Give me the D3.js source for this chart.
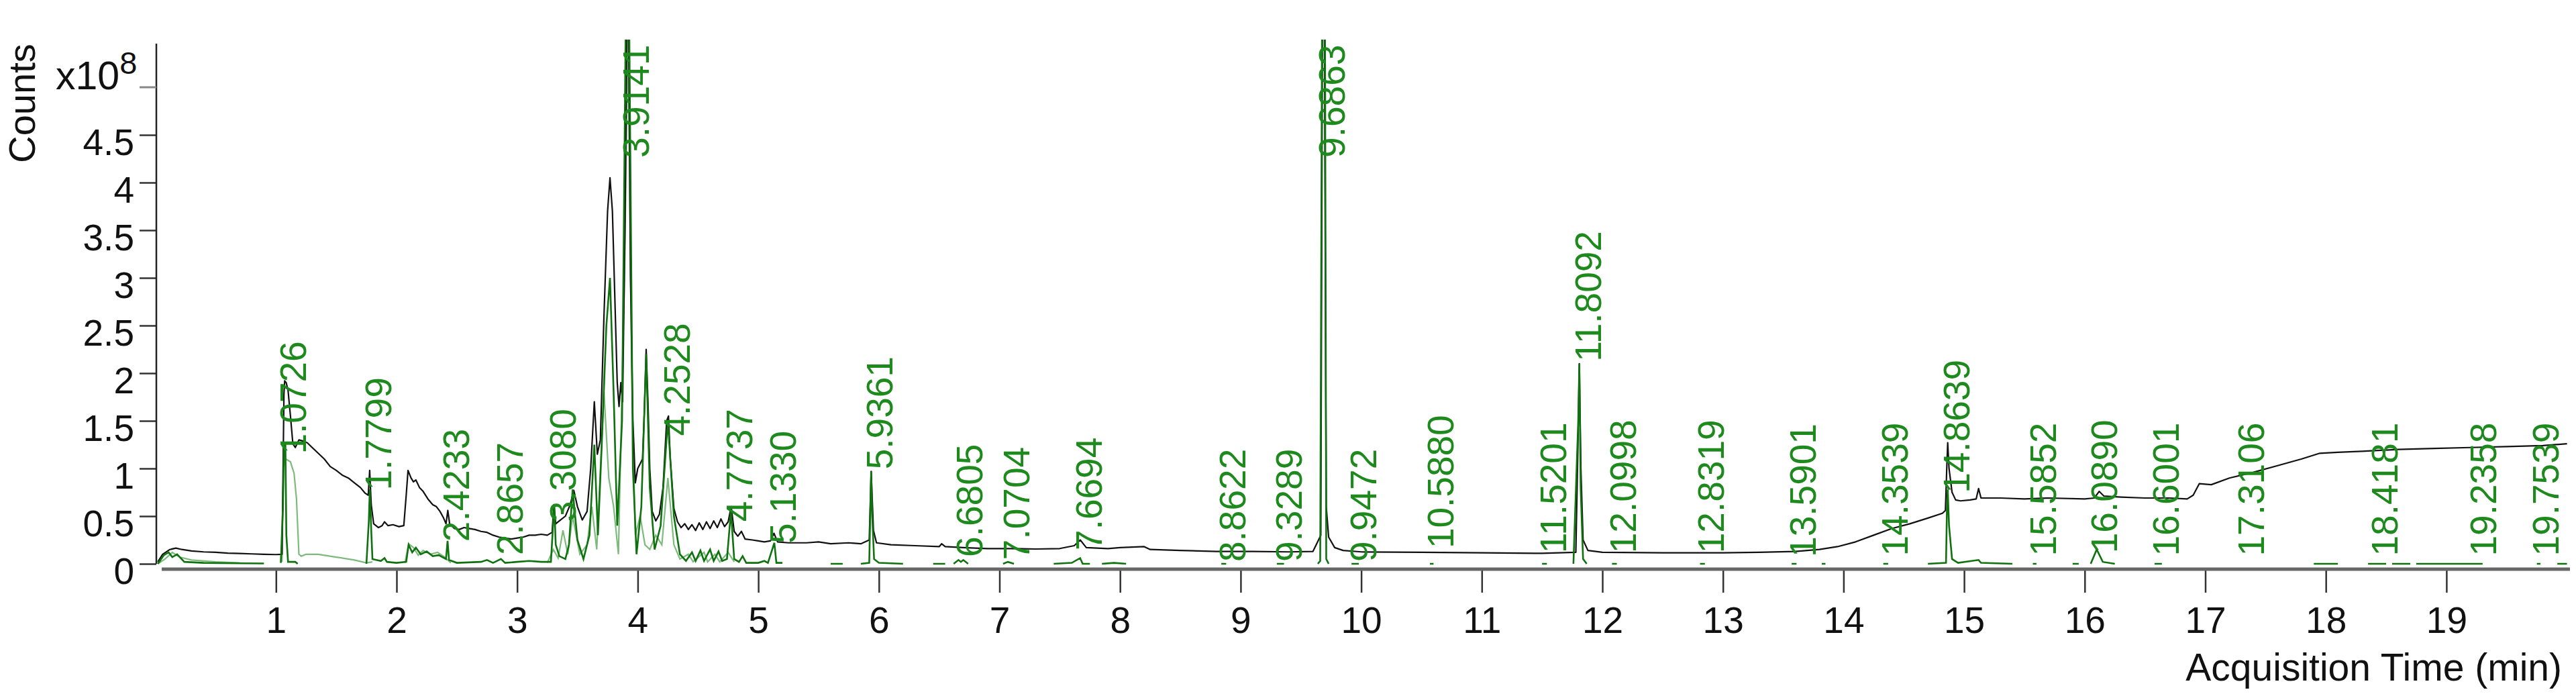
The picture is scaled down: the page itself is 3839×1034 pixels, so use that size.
<!DOCTYPE html>
<html>
<head>
<meta charset="utf-8">
<script src="https://cdn.jsdelivr.net/npm/d3@7"></script>
<style>
  html, body { margin: 0; padding: 0; background: #fff; }
  svg { display: block; font-family: "Liberation Sans", Arial, sans-serif; }
</style>
</head>
<body>
<div id="chart"></div>
<script>
// tick labels
const xTicks = [1, 2, 3, 4, 5, 6, 7, 8, 9, 10, 11, 12, 13, 14, 15, 16, 17, 18, 19];
const yTicks = [0, 0.5, 1, 1.5, 2, 2.5, 3, 3.5, 4, 4.5];

// TIC trace (black), [time min, counts x10^8]
const ticTrace = [
  [0.02,0.02],[0.06,0.1],[0.12,0.15],[0.17,0.165],[0.22,0.15],[0.3,0.135],[0.4,0.125],[0.5,0.12],[0.6,0.112],[0.7,0.108],[0.8,0.104],[0.9,0.1],[1.0,0.097],[1.05,0.1],
  [1.058,0.9],[1.066,1.78],[1.072,1.92],[1.085,1.9],[1.1,1.82],[1.12,1.55],[1.14,1.26],[1.16,1.22],[1.19,1.3],[1.22,1.29],[1.26,1.27],[1.3,1.22],[1.35,1.16],[1.4,1.1],[1.45,1.02],[1.5,0.98],[1.55,0.93],[1.6,0.9],[1.65,0.85],[1.7,0.8],[1.74,0.74],[1.765,0.72],[1.777,0.98],[1.79,0.62],[1.81,0.42],
  [1.85,0.38],[1.88,0.4],[1.9,0.44],[1.93,0.4],[1.97,0.41],[2.02,0.39],[2.06,0.4],[2.08,0.72],[2.095,0.98],[2.12,0.9],[2.14,0.86],[2.16,0.88],[2.19,0.8],[2.22,0.76],[2.26,0.68],[2.3,0.62],[2.33,0.6],[2.36,0.55],[2.39,0.48],[2.41,0.42],[2.425,0.56],[2.44,0.42],
  [2.48,0.37],[2.52,0.36],[2.56,0.38],[2.6,0.37],[2.65,0.36],[2.7,0.34],[2.75,0.33],[2.8,0.3],[2.85,0.28],[2.9,0.27],[2.95,0.26],[3.0,0.27],[3.05,0.28],[3.1,0.3],[3.15,0.3],[3.2,0.31],[3.25,0.3],[3.29,0.33],[3.305,0.62],[3.32,0.42],[3.36,0.46],[3.4,0.5],[3.44,0.62],[3.47,0.77],[3.5,0.6],[3.54,0.46],[3.58,0.55],
  [3.61,1.0],[3.64,1.7],[3.665,1.15],[3.69,1.3],[3.72,2.6],[3.75,3.7],[3.77,4.05],[3.79,3.7],[3.81,2.8],[3.83,1.9],[3.845,1.65],[3.86,1.9],[3.875,1.7],[3.895,3.6],[3.91,5.6],[3.925,5.6],[3.94,3.0],[3.96,1.5],[3.98,0.85],[4.0,1.0],[4.02,1.05],[4.04,1.1],[4.055,1.6],[4.07,2.25],[4.085,1.7],[4.1,1.0],[4.12,0.55],[4.15,0.45],[4.18,0.52],[4.21,0.8],[4.24,1.5],[4.255,1.55],[4.27,1.1],[4.3,0.58],[4.33,0.44],
  [4.36,0.38],[4.39,0.42],[4.42,0.36],[4.45,0.41],[4.48,0.35],[4.51,0.43],[4.54,0.36],[4.57,0.44],[4.6,0.37],[4.63,0.45],[4.66,0.38],[4.69,0.47],[4.72,0.39],[4.75,0.44],[4.775,0.6],[4.8,0.34],[4.83,0.29],[4.86,0.34],[4.89,0.26],[4.95,0.25],[5.0,0.24],[5.05,0.23],[5.1,0.24],[5.13,0.32],[5.16,0.23],[5.25,0.22],[5.4,0.22],[5.5,0.23],[5.6,0.21],[5.75,0.22],[5.85,0.21],[5.92,0.25],[5.936,0.97],[5.955,0.35],[5.98,0.22],
  [6.1,0.2],[6.3,0.19],[6.5,0.18],[6.52,0.21],[6.55,0.18],[6.7,0.17],[6.9,0.16],[7.1,0.16],[7.3,0.155],[7.5,0.16],[7.62,0.19],[7.67,0.25],[7.72,0.17],[7.9,0.16],[8.0,0.17],[8.2,0.18],[8.25,0.15],[8.5,0.14],[8.8,0.13],[9.1,0.13],[9.4,0.125],[9.6,0.13],[9.665,0.3],[9.678,5.6],[9.695,5.6],[9.71,0.6],[9.73,0.28],[9.78,0.17],[9.85,0.14],
  [10.0,0.125],[10.5,0.12],[11.0,0.115],[11.5,0.11],[11.78,0.12],[11.797,1.2],[11.809,2.1],[11.822,1.0],[11.84,0.25],[11.88,0.14],[12.0,0.12],[12.5,0.115],[13.0,0.115],[13.3,0.12],[13.6,0.13],[13.8,0.15],[13.95,0.18],[14.1,0.23],[14.25,0.3],[14.4,0.37],[14.55,0.42],[14.7,0.48],[14.82,0.53],[14.845,0.56],[14.856,1.0],[14.864,1.27],[14.875,1.0],[14.9,0.75],[14.93,0.67],
  [14.97,0.66],[15.05,0.67],[15.1,0.68],[15.12,0.79],[15.14,0.69],[15.3,0.69],[15.5,0.68],[15.7,0.69],[16.0,0.68],[16.08,0.69],[16.12,0.76],[16.16,0.71],[16.3,0.7],[16.5,0.69],[16.7,0.69],[16.85,0.68],[16.9,0.72],[16.95,0.84],[17.05,0.83],[17.2,0.9],[17.4,0.96],[17.6,1.03],[17.8,1.1],[17.95,1.16],[18.1,1.17],[18.3,1.18],[18.6,1.2],[18.9,1.21],[19.2,1.22],[19.5,1.23],[19.8,1.24],[20.0,1.26]
];

// labelled extracted trace (dark green), null = no data
const eicMain = [
  [0.02,0],[0.07,0.09],[0.11,0.12],[0.14,0.07],[0.18,0.1],[0.24,0.02],[0.4,0.01],[0.7,0.005],[0.9,0.003],[0.95,null],
  [1.04,0.01],[1.058,0.6],[1.066,1.25],[1.078,1.25],[1.086,0.3],[1.1,0.02],[1.16,0.02],[1.18,0],[1.2,null],
  [1.75,0],[1.77,0.45],[1.778,0.78],[1.79,0.35],[1.8,0.05],[1.87,0.03],[1.9,0.06],[1.92,0.02],[2.0,0.01],[2.08,0.02],[2.1,0.2],[2.13,0.12],[2.16,0.17],[2.2,0.1],[2.25,0.13],[2.3,0.08],[2.35,0.09],[2.41,0.05],[2.423,0.24],[2.435,0.04],[2.5,0.01],[2.7,0.02],[2.75,0.04],[2.8,0.01],[2.866,0.05],[2.9,0.01],[3.0,0.02],[3.1,0.03],[3.2,0.02],[3.28,0.02],
  [3.3,0.45],[3.308,0.62],[3.32,0.2],[3.35,0.08],[3.4,0.05],[3.43,0.2],[3.46,0.78],[3.5,0.25],[3.55,0.05],[3.6,0.3],[3.64,1.25],[3.67,0.3],[3.7,1.2],[3.74,2.5],[3.77,3.0],[3.8,1.8],[3.83,0.4],[3.87,1.5],[3.9,5.6],[3.93,5.6],[3.96,1.0],[3.99,0.1],[4.03,0.6],[4.07,2.2],[4.1,0.8],[4.14,0.15],[4.19,0.4],[4.25,1.5],[4.3,0.5],[4.35,0.1],
  [4.4,0.03],[4.45,0.12],[4.48,0.03],[4.52,0.14],[4.55,0.03],[4.6,0.15],[4.63,0.03],[4.67,0.13],[4.7,0.03],[4.74,0.05],[4.773,0.55],[4.8,0.05],[4.84,0.02],[4.87,0.08],[4.9,0.01],[5.0,0.01],[5.05,0.03],[5.08,0.01],[5.133,0.22],[5.15,0.01],[5.2,0.01],[5.25,null],
  [5.6,0],[5.7,0],[5.75,null],[5.85,0],[5.92,0.01],[5.93,0.6],[5.936,0.97],[5.945,0.5],[5.96,0.05],[6.0,0.01],[6.2,0],[6.25,null],[6.45,0],[6.55,0],[6.6,null],[6.62,0],[6.66,0.04],[6.68,0.02],[6.7,0.04],[6.74,0],[6.76,null],
  [7.03,0],[7.07,0.02],[7.12,0],[7.14,null],[7.45,0],[7.6,0.01],[7.669,0.06],[7.69,0],[7.75,0],[7.77,null],[7.85,0],[7.95,0.01],[8.05,0],[8.07,null],[8.84,0],[8.88,0],[8.9,null],[9.3,0],[9.36,0],[9.38,null],
  [9.64,0],[9.66,0.03],[9.675,5.6],[9.7,5.6],[9.71,0.05],[9.73,0],[9.76,null],[9.92,0],[9.98,0],[10.0,null],[10.57,0],[10.6,0],[10.62,null],[11.5,0],[11.54,0],[11.56,null],
  [11.76,0],[11.8,1.5],[11.809,2.1],[11.82,0.8],[11.84,0.05],[11.87,0],[11.9,null],[12.08,0],[12.12,0],[12.14,null],[12.81,0],[12.85,0],[12.87,null],[13.57,0],[13.61,0],[13.63,null],[13.82,0],[13.85,0],[13.87,null],[14.33,0],[14.37,0],[14.39,null],
  [14.7,0],[14.85,0.01],[14.858,0.6],[14.864,0.78],[14.875,0.4],[14.9,0.05],[14.95,0.01],[15.12,0.04],[15.14,0.01],[15.4,0],[15.45,null],[15.57,0],[15.6,0],[15.62,null],[15.9,0],[15.95,0],[15.97,null],
  [16.05,0],[16.1,0.15],[16.15,0.02],[16.25,0],[16.27,null],[16.58,0],[16.64,0],[16.66,null],[16.8,0],[16.82,null],[17.12,0],[17.16,null],[17.3,0],[17.34,null],[17.45,0],[17.48,null],
  [17.9,0],[18.1,0],[18.12,null],[18.35,0],[18.5,0],[18.52,null],[18.55,0],[18.7,0],[18.72,null],[18.75,0],[19.3,0],[19.32,null],[19.75,0],[19.78,0],[19.8,null],[19.92,0],[20.0,0]
];

// second extracted trace (light green)
const eicSecond = [
  [0.02,0],[0.08,0.05],[0.14,0.12],[0.2,0.07],[0.3,0.04],[0.5,0.02],[0.7,0.01],[0.75,null],
  [1.05,0.02],[1.062,1.0],[1.08,1.1],[1.12,1.07],[1.15,0.95],[1.17,0.68],[1.19,0.1],[1.21,0.08],[1.25,0.1],[1.35,0.1],[1.5,0.07],[1.65,0.04],[1.75,0.01],[1.8,0.02],[1.85,null],
  [2.07,0.01],[2.1,0.21],[2.14,0.17],[2.18,0.09],[2.22,0.14],[2.28,0.1],[2.34,0.12],[2.4,0.07],[2.45,0.01],[2.5,null],
  [3.25,0.01],[3.3,0.15],[3.34,0.06],[3.38,0.35],[3.42,0.1],[3.46,0.5],[3.52,0.1],[3.58,0.2],[3.62,0.6],[3.66,0.15],[3.72,1.8],[3.76,0.9],[3.8,0.6],[3.84,0.1],[3.89,3.0],[3.92,5.6],[3.95,2.0],[3.98,0.3],[4.02,0.5],[4.06,0.2],[4.1,0.15],[4.15,0.3],[4.2,0.2],[4.25,0.9],[4.3,0.2],[4.35,0.05],
  [4.42,0.1],[4.46,0.02],[4.55,0.12],[4.58,0.02],[4.64,0.1],[4.68,0.02],[4.75,0.12],[4.8,0.02],[4.85,null]
];

// peak labels: retention time text and level where the label starts
const peakLabels = ["1.0726","1.7799","2.4233","2.8657","3.3080","3.9141","4.2528","4.7737","5.1330","5.9361","6.6805","7.0704","7.6694","8.8622","9.3289","9.6863","9.9472","10.5880","11.5201","11.8092","12.0998","12.8319","13.5901","14.3539","14.8639","15.5852","16.0890","16.6001","17.3106","18.4181","19.2358","19.7539"];
const labelLevels = [1.13,0.75,0.21,0.07,0.42,4.24,1.32,0.42,0.19,0.97,0.05,0.02,0.12,0.0,0.0,4.24,0.0,0.14,0.09,2.1,0.09,0.09,0.05,0.06,0.72,0.06,0.09,0.06,0.06,0.06,0.06,0.06];

const width = 3839;
const height = 1034;

const dimensions = {
  plotLeft: 233,
  plotRight: 3830,
  plotTop: 59,
  zeroY: 840,
  axisY: 848,
};

const svg = d3
  .select("#chart")
  .append("svg")
  .attr("width", width)
  .attr("height", height);

svg.append("rect").attr("width", width).attr("height", height).attr("fill", "#fff");

const xScale = d3.scaleLinear().domain([0, 20]).range([231.6, 3825.6]);
const yScale = d3.scaleLinear().domain([0, 5.5]).range([dimensions.zeroY, 59]);

svg
  .append("clipPath")
  .attr("id", "plot-clip")
  .append("rect")
  .attr("x", dimensions.plotLeft)
  .attr("y", dimensions.plotTop)
  .attr("width", dimensions.plotRight - dimensions.plotLeft)
  .attr("height", dimensions.axisY - dimensions.plotTop);

const plot = svg.append("g").attr("clip-path", "url(#plot-clip)");

const line = d3
  .line()
  .defined((d) => d[1] !== null)
  .x((d) => xScale(d[0]))
  .y((d) => yScale(d[1]));

plot
  .append("path")
  .datum(eicSecond)
  .attr("d", line)
  .attr("fill", "none")
  .attr("stroke", "#7dbb7d")
  .attr("stroke-width", 2.2);

plot
  .append("path")
  .datum(ticTrace)
  .attr("d", line)
  .attr("fill", "none")
  .attr("stroke", "#111")
  .attr("stroke-width", 2.2)
  .attr("stroke-linejoin", "round");

plot
  .append("path")
  .datum(eicMain)
  .attr("d", line)
  .attr("fill", "none")
  .attr("stroke", "#0f720f")
  .attr("stroke-width", 2.6);

// peak labels
svg
  .append("g")
  .selectAll("text")
  .data(peakLabels)
  .join("text")
  .attr("transform", (d, i) => `translate(${xScale(+d) + 32},${yScale(labelLevels[i]) - 3}) rotate(-90)`)
  .attr("fill", "#1e8a1e")
  .style("font-size", "55px")
  .text((d) => d);

// y axis
const yAxis = svg
  .append("g")
  .attr("transform", `translate(${dimensions.plotLeft},0)`)
  .call(
    d3.axisLeft(yScale)
      .tickValues(yTicks)
      .tickFormat(d3.format("~g"))
      .tickSize(25)
      .tickPadding(8)
  );
yAxis.select(".domain").remove();
yAxis.selectAll(".tick line").attr("stroke", "#333").attr("stroke-width", 2.5);
yAxis
  .selectAll(".tick text")
  .attr("dy", "0.54em")
  .attr("fill", "#111")
  .style("font-size", "55px")
  .style("font-family", "'Liberation Sans', Arial, sans-serif");

svg
  .append("line")
  .attr("x1", dimensions.plotLeft)
  .attr("x2", dimensions.plotLeft)
  .attr("y1", 65)
  .attr("y2", dimensions.zeroY)
  .attr("stroke", "#222")
  .attr("stroke-width", 2.5);

// exponent tick
svg
  .append("line")
  .attr("x1", dimensions.plotLeft - 25)
  .attr("x2", dimensions.plotLeft)
  .attr("y1", yScale(5))
  .attr("y2", yScale(5))
  .attr("stroke", "#888")
  .attr("stroke-width", 3);

const expLabel = svg
  .append("text")
  .attr("x", 83)
  .attr("y", 133)
  .attr("fill", "#111")
  .style("font-size", "59px");
expLabel.append("tspan").text("x10");
expLabel.append("tspan").attr("dy", -23).style("font-size", "47px").text("8");

svg
  .append("text")
  .attr("transform", "translate(52,154) rotate(-90)")
  .attr("text-anchor", "middle")
  .attr("fill", "#111")
  .style("font-size", "56px")
  .text("Counts");

// x axis
const xAxis = svg
  .append("g")
  .attr("transform", `translate(0,${dimensions.axisY})`)
  .call(d3.axisBottom(xScale).tickValues(xTicks).tickSize(35).tickPadding(21));
xAxis.select(".domain").remove();
xAxis.selectAll(".tick line").attr("stroke", "#333").attr("stroke-width", 2.5);
xAxis
  .selectAll(".tick text")
  .attr("fill", "#111")
  .style("font-size", "55px")
  .style("font-family", "'Liberation Sans', Arial, sans-serif");

svg
  .append("line")
  .attr("x1", 241)
  .attr("x2", dimensions.plotRight)
  .attr("y1", dimensions.axisY)
  .attr("y2", dimensions.axisY)
  .attr("stroke", "#666")
  .attr("stroke-width", 5);

svg
  .append("text")
  .attr("x", 3818)
  .attr("y", 1014)
  .attr("text-anchor", "end")
  .attr("fill", "#111")
  .style("font-size", "57px")
  .text("Acquisition Time (min)");
</script>
</body>
</html>
